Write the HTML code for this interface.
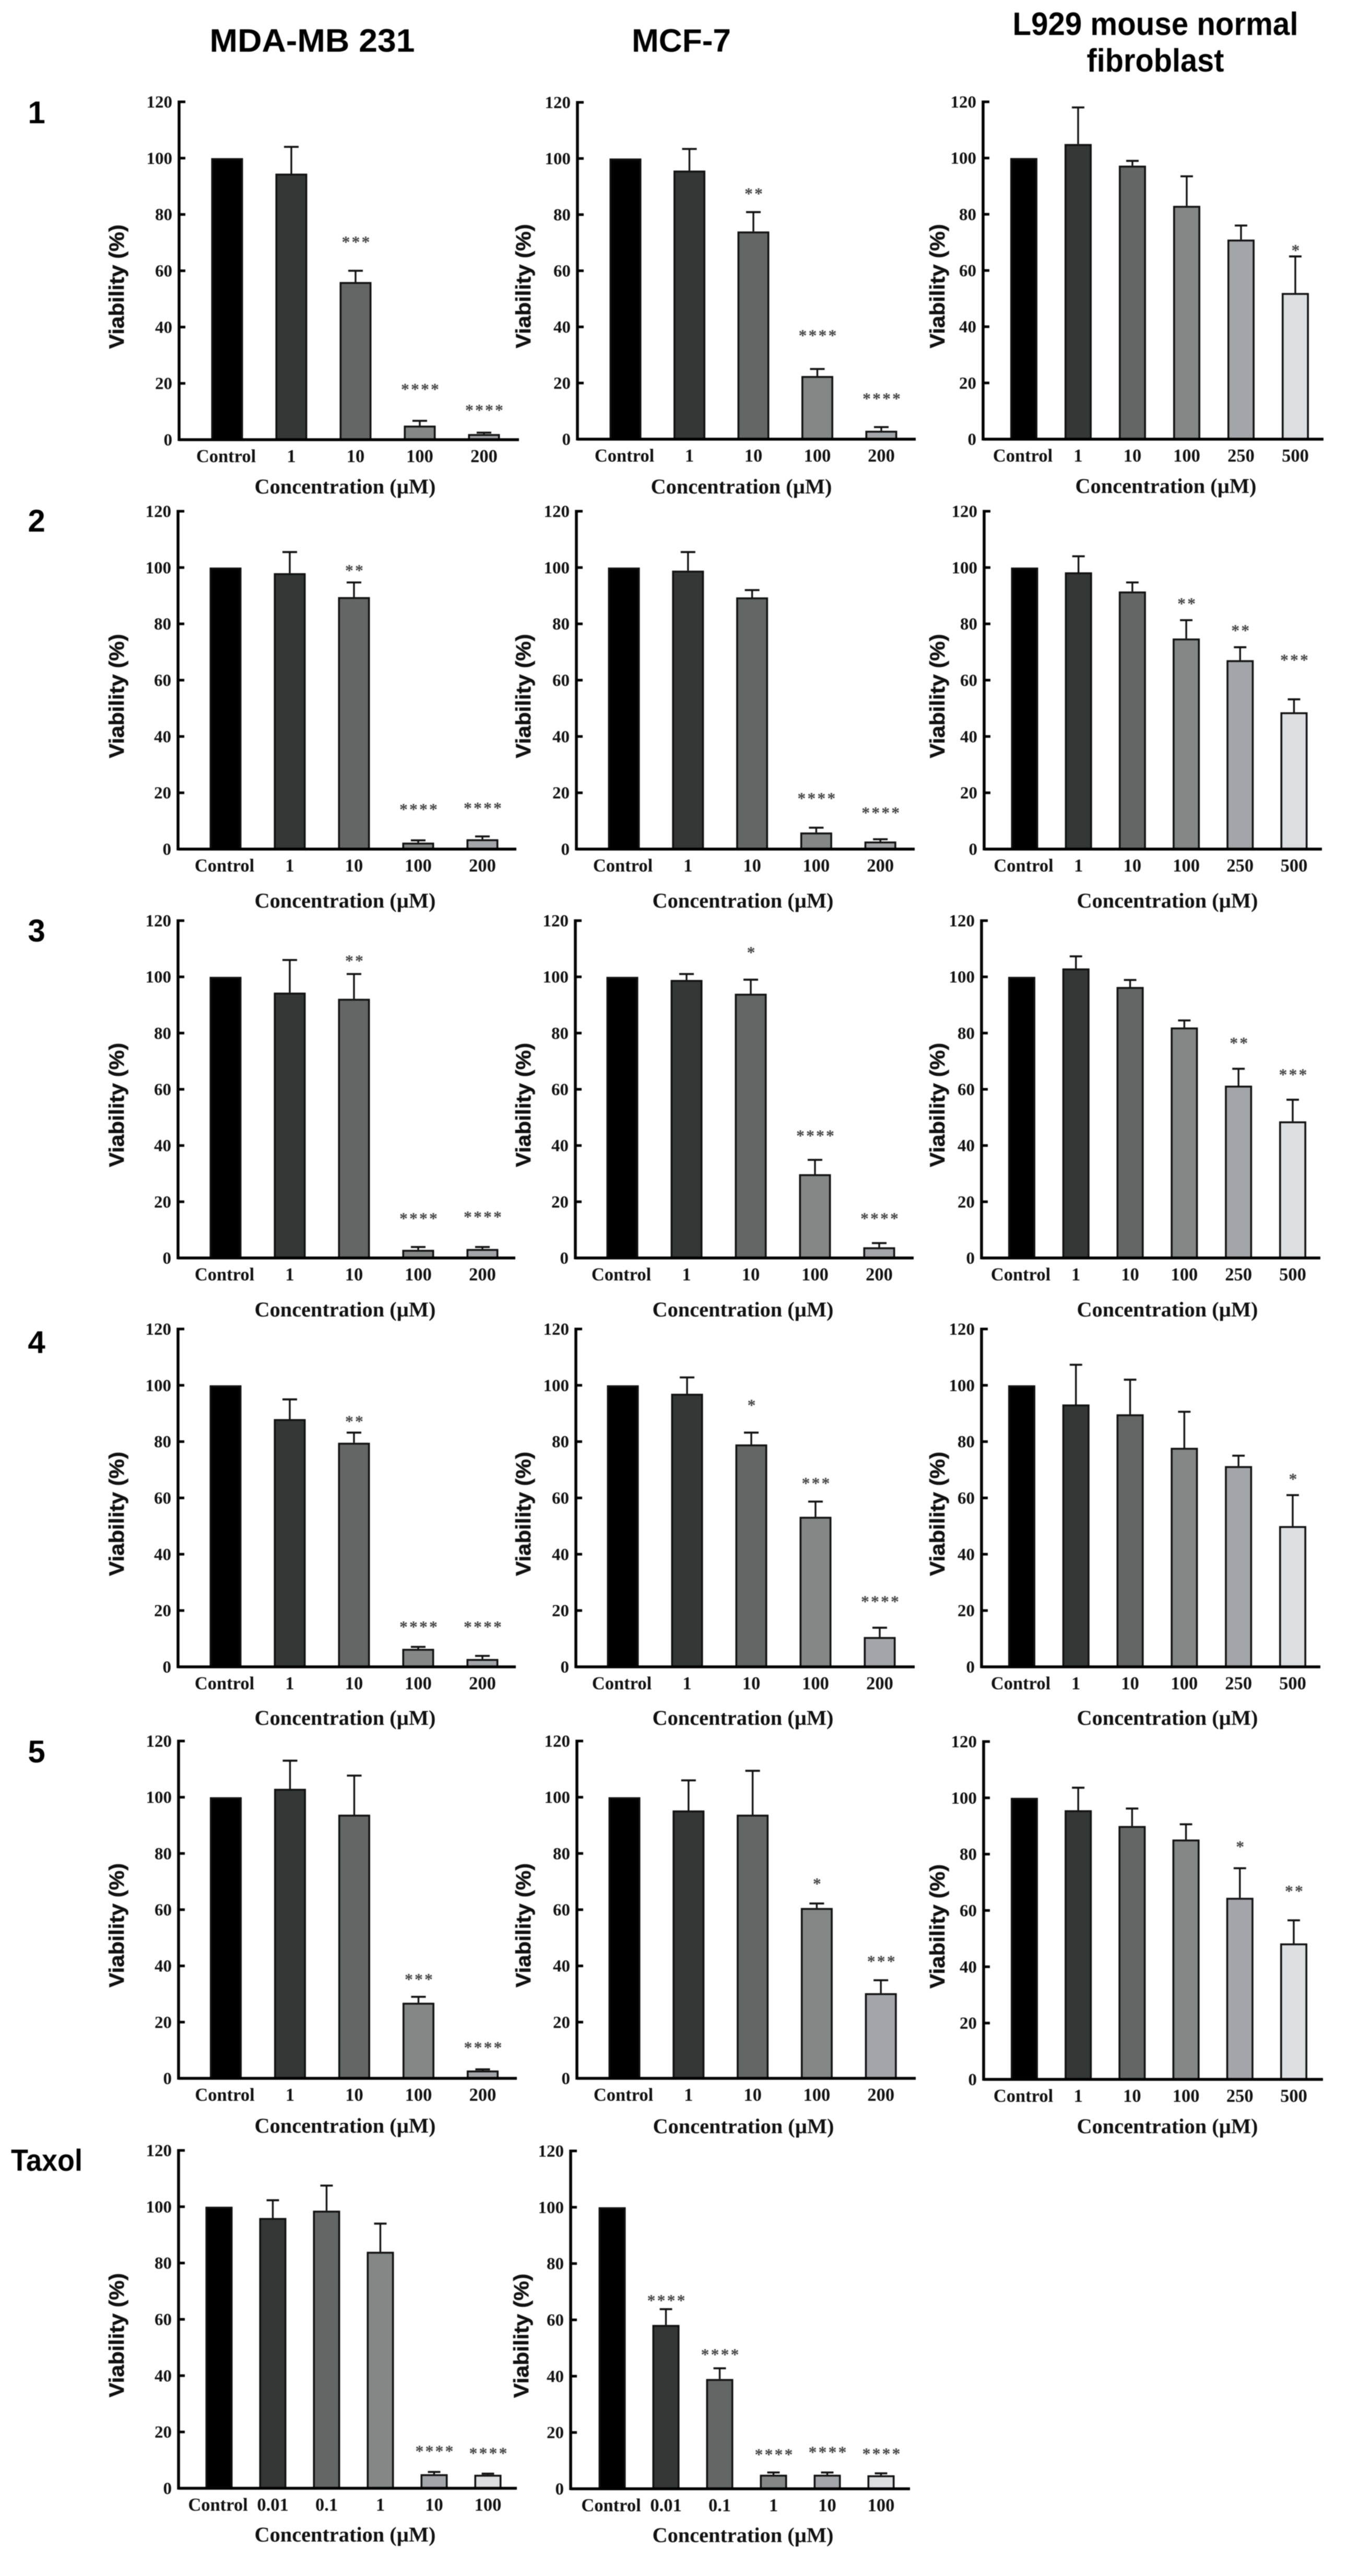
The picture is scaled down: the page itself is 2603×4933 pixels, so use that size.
<!DOCTYPE html>
<html lang="en">
<head>
<meta charset="utf-8">
<title>Cell viability panels</title>
<style>
html,body{margin:0;padding:0;background:#fff;width:2603px;height:4933px;overflow:hidden}
svg{display:block;filter:blur(0.7px)}
.hd{font-family:"Liberation Sans",sans-serif;font-weight:700;fill:#000}
</style>
</head>
<body>
<svg id="figure" xmlns="http://www.w3.org/2000/svg" width="2603" height="4933" viewBox="0 0 2603 4933">
  <rect x="0" y="0" width="2603" height="4933" fill="#fff"/>
  <text class="hd" x="598" y="99" font-size="62" text-anchor="middle" textLength="393" lengthAdjust="spacingAndGlyphs">MDA-MB 231</text>
  <text class="hd" x="1305" y="99" font-size="62" text-anchor="middle" textLength="190" lengthAdjust="spacingAndGlyphs">MCF-7</text>
  <text class="hd" x="2213" y="67" font-size="62" text-anchor="middle" textLength="547" lengthAdjust="spacingAndGlyphs">L929 mouse normal</text>
  <text class="hd" x="2213" y="137" font-size="62" text-anchor="middle" textLength="263" lengthAdjust="spacingAndGlyphs">fibroblast</text>
  <text class="hd" x="70" y="236" font-size="60" text-anchor="middle">1</text>
  <text class="hd" x="70" y="1018" font-size="60" text-anchor="middle">2</text>
  <text class="hd" x="70" y="1803" font-size="60" text-anchor="middle">3</text>
  <text class="hd" x="70" y="2591" font-size="60" text-anchor="middle">4</text>
  <text class="hd" x="70" y="3375" font-size="60" text-anchor="middle">5</text>
  <text class="hd" x="21" y="4157" font-size="58" textLength="137" lengthAdjust="spacingAndGlyphs">Taxol</text>
</svg>
<script>
// ---- Shared categories and ticks ----
const categoriesCancer = ['Control', '1', '10', '100', '200'];
const categoriesFibroblast = ['Control', '1', '10', '100', '250', '500'];
const categoriesTaxol = ['Control', '0.01', '0.1', '1', '10', '100'];
const yTickLabels = [0, 20, 40, 60, 80, 100, 120];

// ---- Series: means, upper error limits, significance marks and their heights (in % units) ----
const valuesR1C1 = [100, 94.5, 56, 5, 2];
const errorsR1C1 = [100, 104, 60, 6.7, 2.5];
const starsR1C1 = ['', '', '***', '****', '****'];
const starLevelsR1C1 = [0, 0, 71, 18.7, 11.3];

const valuesR1C2 = [100, 95.7, 74, 22.5, 3];
const errorsR1C2 = [100, 103.4, 80.9, 25, 4.3];
const starsR1C2 = ['', '', '**', '****', '****'];
const starLevelsR1C2 = [0, 0, 88.3, 37.8, 15.3];

const valuesR1C3 = [100, 105, 97.3, 83, 71, 52];
const errorsR1C3 = [100, 118, 99, 93.5, 76, 65];
const starsR1C3 = ['', '', '', '', '', '*'];
const starLevelsR1C3 = [0, 0, 0, 0, 0, 68];

const valuesR2C1 = [100, 98, 89.5, 2.3, 3.5];
const errorsR2C1 = [100, 105.5, 94.7, 3.1, 4.5];
const starsR2C1 = ['', '', '**', '****', '****'];
const starLevelsR2C1 = [0, 0, 99.8, 14.9, 15.4];

const valuesR2C2 = [100, 98.9, 89.4, 5.9, 2.7];
const errorsR2C2 = [100, 105.5, 92, 7.6, 3.5];
const starsR2C2 = ['', '', '', '****', '****'];
const starLevelsR2C2 = [0, 0, 0, 18.8, 13.7];

const valuesR2C3 = [100, 98.3, 91.5, 74.8, 67.1, 48.6];
const errorsR2C3 = [100, 104, 94.7, 81.3, 71.7, 53.2];
const starsR2C3 = ['', '', '', '**', '**', '***'];
const starLevelsR2C3 = [0, 0, 0, 88, 78.5, 68];

const valuesR3C1 = [100, 94.4, 92.2, 2.9, 3.2];
const errorsR3C1 = [100, 106, 101, 3.9, 3.9];
const starsR3C1 = ['', '', '**', '****', '****'];
const starLevelsR3C1 = [0, 0, 106.5, 14.9, 15.4];

const valuesR3C2 = [100, 98.9, 94, 29.8, 3.8];
const errorsR3C2 = [100, 101, 99, 34.9, 5.3];
const starsR3C2 = ['', '', '*', '****', '****'];
const starLevelsR3C2 = [0, 0, 109.5, 44.3, 14.9];

const valuesR3C3 = [100, 103, 96.4, 82, 61.3, 48.6];
const errorsR3C3 = [100, 107.3, 98.9, 84.5, 67.3, 56.3];
const starsR3C3 = ['', '', '', '', '**', '***'];
const starLevelsR3C3 = [0, 0, 0, 0, 77.3, 66];

const valuesR4C1 = [100, 88, 79.6, 6.4, 2.8];
const errorsR4C1 = [100, 95, 83.2, 7.1, 3.9];
const starsR4C1 = ['', '', '**', '****', '****'];
const starLevelsR4C1 = [0, 0, 88, 15, 15];

const valuesR4C2 = [100, 97, 79, 53.3, 10.6];
const errorsR4C2 = [100, 102.8, 83.2, 58.7, 13.9];
const starsR4C2 = ['', '', '*', '***', '****'];
const starLevelsR4C2 = [0, 0, 93.8, 66, 24];

const valuesR4C3 = [100, 93.2, 89.7, 77.8, 71.3, 50];
const errorsR4C3 = [100, 107.3, 102, 90.6, 75, 61];
const starsR4C3 = ['', '', '', '', '', '*'];
const starLevelsR4C3 = [0, 0, 0, 0, 0, 67.5];

const valuesR5C1 = [100, 103, 93.8, 26.9, 2.8];
const errorsR5C1 = [100, 113, 107.7, 29, 3.2];
const starsR5C1 = ['', '', '', '***', '****'];
const starLevelsR5C1 = [0, 0, 0, 36, 11.8];

const valuesR5C2 = [100, 95.3, 93.8, 60.6, 30.3];
const errorsR5C2 = [100, 106, 109.4, 62.2, 34.9];
const starsR5C2 = ['', '', '', '*', '***'];
const starLevelsR5C2 = [0, 0, 0, 70, 42.4];

const valuesR5C3 = [100, 95.6, 90, 85.2, 64.5, 48.3];
const errorsR5C3 = [100, 103.6, 96.2, 90.6, 75, 56.5];
const starsR5C3 = ['', '', '', '', '*', '**'];
const starLevelsR5C3 = [0, 0, 0, 0, 83.5, 67.7];

const valuesR6C1 = [100, 96, 98.6, 84, 5, 4.8];
const errorsR6C1 = [100, 102.3, 107.5, 94, 5.8, 5.2];
const starsR6C1 = ['', '', '', '', '****', '****'];
const starLevelsR6C1 = [0, 0, 0, 0, 14, 13.3];

const valuesR6C2 = [100, 58.2, 39, 5, 5, 4.8];
const errorsR6C2 = [100, 63.8, 42.8, 5.8, 5.8, 5.5];
const starsR6C2 = ['', '****', '****', '****', '****', '****'];
const starLevelsR6C2 = [0, 67.7, 48.5, 13, 13.8, 13.3];

// Bar fills by group order (Prism-style grey ramp); six-group panels use the light last step.
const greyRamp = ['#000000', '#353737', '#646666', '#858787', '#a4a5a8', '#dcdedf'];

const svg = document.getElementById('figure');
const NS = 'http://www.w3.org/2000/svg';
const AXIS_MAX = 120;

function make(tag, attrs, text) {
  const el = document.createElementNS(NS, tag);
  for (const k in attrs) el.setAttribute(k, attrs[k]);
  if (text !== undefined) el.textContent = text;
  return el;
}

function drawPanel(id, frame, categories, values, errors, stars, starLevels) {
  const group = make('g', {});
  
  
  svg.appendChild(group);

  // Axis functions
  const yScale = v => frame.zero - (v / AXIS_MAX) * (frame.zero - frame.top);
  const xScale = i => frame.first + i * frame.step;
  const serif = '"Liberation Serif", serif';

  // Bars and error bars
  values.forEach((v, i) => {
    const cx = xScale(i), w = frame.barW, sw = 3.6;
    const errTop = yScale(errors[i]);
    const capW = w * 0.46;
    if (errors[i] > v) {
      const stem = make('line', {x1: cx, x2: cx, y1: yScale(v), y2: errTop, stroke: '#111', 'stroke-width': 3.4});
      
      
      group.appendChild(stem);
      const cap = make('line', {x1: cx - capW / 2, x2: cx + capW / 2, y1: errTop, y2: errTop, stroke: '#111', 'stroke-width': 3.8});
      
      
      group.appendChild(cap);
    }
    const bar = make('rect', {
      x: cx - w / 2 + sw / 2,
      y: yScale(v) + sw / 2,
      width: w - sw,
      height: Math.max(0, frame.zero - yScale(v) - sw / 2),
      fill: greyRamp[i],
      stroke: '#111',
      'stroke-width': sw
    });
    
    
    group.appendChild(bar);

    if (stars[i]) {
      const mark = make('text', {
        x: cx + 2, y: yScale(starLevels[i]) + 15,
        'text-anchor': 'middle', 'font-family': serif, 'font-weight': 700,
        'font-size': 32, 'letter-spacing': 3, fill: '#444'
      }, stars[i]);
      
      
      group.appendChild(mark);
    }

    const label = make('text', {
      x: cx - (i === 0 ? 2 : 0), y: frame.zero + 43,
      'text-anchor': 'middle', 'font-family': serif, 'font-weight': 700,
      'font-size': 34.5, fill: '#111'
    }, categories[i]);
    
    
    group.appendChild(label);
  });

  // Axes
  const yAxis = make('line', {x1: frame.axisX, x2: frame.axisX, y1: frame.top - 2.5, y2: frame.zero + 2.5, stroke: '#000', 'stroke-width': 5.5});
  
  
  group.appendChild(yAxis);
  const xAxis = make('line', {x1: frame.axisX, x2: frame.end, y1: frame.zero, y2: frame.zero, stroke: '#000', 'stroke-width': 5.5});
  
  
  group.appendChild(xAxis);

  yTickLabels.forEach(t => {
    const tick = make('line', {x1: frame.axisX, x2: frame.axisX + 12, y1: yScale(t), y2: yScale(t), stroke: '#000', 'stroke-width': 5});
    
    
    group.appendChild(tick);
    const tl = make('text', {
      x: frame.axisX - 13, y: yScale(t) + 11,
      'text-anchor': 'end', 'font-family': serif, 'font-weight': 700,
      'font-size': 33, fill: '#111'
    }, String(t));
    
    
    group.appendChild(tl);
  });

  // Axis titles
  const cy = frame.zero - 293;
  const yTitle = make('text', {
    transform: 'translate(' + (frame.titleX + 13) + ',' + cy + ') rotate(-90)',
    'text-anchor': 'middle', 'font-family': '"Liberation Sans", sans-serif', 'font-weight': 700,
    'font-size': 40, fill: '#111', stroke: '#111', 'stroke-width': 0.6, textLength: 238, lengthAdjust: 'spacingAndGlyphs'
  }, 'Viability (%)');
  
  
  group.appendChild(yTitle);

  const xTitle = make('text', {
    x: frame.xTitleX, y: frame.zero + frame.xTitleDy + 13,
    'text-anchor': 'middle', 'font-family': serif, 'font-weight': 700,
    'font-size': 40, fill: '#111', textLength: 347, lengthAdjust: 'spacingAndGlyphs'
  }, 'Concentration (\u00B5M)');
  
  
  group.appendChild(xTitle);
}

drawPanel('r1c1', {axisX: 343, top: 195, zero: 842, end: 994, first: 435, step: 123, barW: 61, titleX: 224, xTitleX: 661, xTitleDy: 90}, categoriesCancer, valuesR1C1, errorsR1C1, starsR1C1, starLevelsR1C1);
drawPanel('r1c2', {axisX: 1106, top: 196, zero: 841, end: 1754, first: 1198, step: 122.5, barW: 61, titleX: 1003, xTitleX: 1420, xTitleDy: 91}, categoriesCancer, valuesR1C2, errorsR1C2, starsR1C2, starLevelsR1C2);
drawPanel('r1c3', {axisX: 1883, top: 195, zero: 841, end: 2535, first: 1961, step: 104, barW: 52, titleX: 1796, xTitleX: 2233, xTitleDy: 90}, categoriesFibroblast, valuesR1C3, errorsR1C3, starsR1C3, starLevelsR1C3);

drawPanel('r2c1', {axisX: 341, top: 979, zero: 1626, end: 989, first: 432, step: 123, barW: 61, titleX: 224, xTitleX: 661, xTitleDy: 99}, categoriesCancer, valuesR2C1, errorsR2C1, starsR2C1, starLevelsR2C1);
drawPanel('r2c2', {axisX: 1104, top: 979, zero: 1626, end: 1752, first: 1195, step: 122.8, barW: 61, titleX: 1003, xTitleX: 1423, xTitleDy: 99}, categoriesCancer, valuesR2C2, errorsR2C2, starsR2C2, starLevelsR2C2);
drawPanel('r2c3', {axisX: 1885, top: 979, zero: 1626, end: 2532, first: 1962.5, step: 103.2, barW: 52, titleX: 1796, xTitleX: 2236, xTitleDy: 99}, categoriesFibroblast, valuesR2C3, errorsR2C3, starsR2C3, starLevelsR2C3);

drawPanel('r3c1', {axisX: 341, top: 1763, zero: 2409, end: 987, first: 432, step: 123, barW: 61, titleX: 224, xTitleX: 661, xTitleDy: 99}, categoriesCancer, valuesR3C1, errorsR3C1, starsR3C1, starLevelsR3C1);
drawPanel('r3c2', {axisX: 1102, top: 1763, zero: 2409, end: 1750, first: 1192, step: 123, barW: 61, titleX: 1003, xTitleX: 1423, xTitleDy: 99}, categoriesCancer, valuesR3C2, errorsR3C2, starsR3C2, starLevelsR3C2);
drawPanel('r3c3', {axisX: 1880, top: 1763, zero: 2409, end: 2529, first: 1957, step: 103.8, barW: 52, titleX: 1796, xTitleX: 2236, xTitleDy: 99}, categoriesFibroblast, valuesR3C3, errorsR3C3, starsR3C3, starLevelsR3C3);

drawPanel('r4c1', {axisX: 341, top: 2545, zero: 3192, end: 988, first: 432, step: 123, barW: 61, titleX: 224, xTitleX: 661, xTitleDy: 98}, categoriesCancer, valuesR4C1, errorsR4C1, starsR4C1, starLevelsR4C1);
drawPanel('r4c2', {axisX: 1103, top: 2545, zero: 3192, end: 1752, first: 1193, step: 123, barW: 61, titleX: 1003, xTitleX: 1423, xTitleDy: 98}, categoriesCancer, valuesR4C2, errorsR4C2, starsR4C2, starLevelsR4C2);
drawPanel('r4c3', {axisX: 1880, top: 2545, zero: 3192, end: 2529, first: 1957, step: 103.8, barW: 52, titleX: 1796, xTitleX: 2236, xTitleDy: 98}, categoriesFibroblast, valuesR4C3, errorsR4C3, starsR4C3, starLevelsR4C3);

drawPanel('r5c1', {axisX: 342, top: 3334, zero: 3980, end: 990, first: 432.5, step: 123, barW: 61, titleX: 224, xTitleX: 661, xTitleDy: 91}, categoriesCancer, valuesR5C1, errorsR5C1, starsR5C1, starLevelsR5C1);
drawPanel('r5c2', {axisX: 1105, top: 3334, zero: 3980, end: 1754, first: 1196, step: 122.8, barW: 61, titleX: 1003, xTitleX: 1424, xTitleDy: 92}, categoriesCancer, valuesR5C2, errorsR5C2, starsR5C2, starLevelsR5C2);
drawPanel('r5c3', {axisX: 1884, top: 3335, zero: 3982, end: 2534, first: 1962, step: 103.2, barW: 52, titleX: 1796, xTitleX: 2236, xTitleDy: 90}, categoriesFibroblast, valuesR5C3, errorsR5C3, starsR5C3, starLevelsR5C3);

drawPanel('r6c1', {axisX: 342, top: 4118, zero: 4765, end: 990, first: 419.5, step: 103, barW: 52, titleX: 224, xTitleX: 661, xTitleDy: 89}, categoriesTaxol, valuesR6C1, errorsR6C1, starsR6C1, starLevelsR6C1);
drawPanel('r6c2', {axisX: 1093, top: 4119, zero: 4766, end: 1743, first: 1172.5, step: 103, barW: 52, titleX: 999, xTitleX: 1423, xTitleDy: 89}, categoriesTaxol, valuesR6C2, errorsR6C2, starsR6C2, starLevelsR6C2);
</script>
</body>
</html>
